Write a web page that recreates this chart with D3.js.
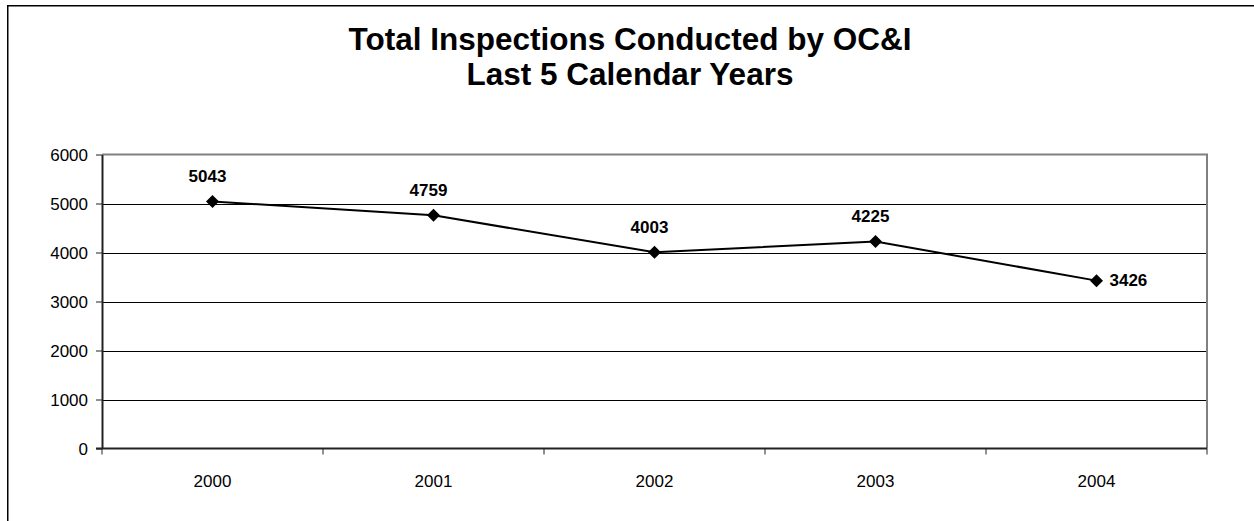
<!DOCTYPE html>
<html>
<head>
<meta charset="utf-8">
<script src="https://cdn.jsdelivr.net/npm/d3@7"></script>
<style>
  html, body { margin: 0; padding: 0; background: #fff; overflow: hidden; }
  svg { display: block; }
  text { font-family: "Liberation Sans", Arial, sans-serif; fill: #000; }
</style>
</head>
<body>
<svg id="chart" width="1254" height="521"></svg>
<script>
const titleLines = ["Total Inspections Conducted by OC&I", "Last 5 Calendar Years"];
const years = ["2000", "2001", "2002", "2003", "2004"];
const inspections = [5043, 4759, 4003, 4225, 3426];
const yTicks = [0, 1000, 2000, 3000, 4000, 5000, 6000];

const W = 1254, H = 521;
const plot = { left: 102, top: 154.5, right: 1207, bottom: 448.5 };

const svg = d3.select("#chart");

// outer chart border (extends past right/bottom edge)
svg.append("path")
  .attr("d", `M${W + 10},5.75H7.75V${H + 10}`)
  .attr("fill", "none").attr("stroke", "#000").attr("stroke-width", 1.5);

// title
const title = svg.append("text")
  .attr("text-anchor", "middle")
  .attr("font-weight", "bold")
  .attr("font-size", 31.5);
titleLines.forEach((t, i) => {
  title.append("tspan").attr("x", 630).attr("y", 49.5 + i * 35.5).text(t);
});

const x = d3.scaleBand().domain(years).range([plot.left, plot.right]);
const y = d3.scaleLinear().domain([0, 6000]).range([plot.bottom, plot.top]);

// gridlines
svg.append("g")
  .selectAll("line")
  .data(yTicks.filter(d => d > 0 && d < 6000))
  .join("line")
  .attr("x1", plot.left).attr("x2", plot.right)
  .attr("y1", d => Math.round(y(d)) + 0.5).attr("y2", d => Math.round(y(d)) + 0.5)
  .attr("stroke", "#000").attr("stroke-width", 1);

// plot frame (top & right gray)
svg.append("path")
  .attr("d", `M${plot.left},${plot.top}H${plot.right}V${plot.bottom}`)
  .attr("fill", "none").attr("stroke", "#808080").attr("stroke-width", 2);

// y axis
const yAxis = svg.append("g")
  .attr("transform", `translate(${plot.left},0)`)
  .call(d3.axisLeft(y).tickValues(yTicks).tickFormat(d3.format("d"))
    .tickSize(6).tickPadding(8).tickSizeOuter(0));
yAxis.select(".domain").attr("stroke", "#222").attr("stroke-width", 2);
yAxis.selectAll(".tick line").attr("stroke", "#222").attr("stroke-width", 1);
yAxis.selectAll(".tick text")
  .attr("font-size", 17)
  .attr("fill", "#000").attr("dy", "0.35em");

// x axis
const xAxis = svg.append("g")
  .attr("transform", `translate(0,${plot.bottom})`)
  .call(d3.axisBottom(x).tickSize(0).tickPadding(26));
xAxis.select(".domain").remove();
xAxis.selectAll(".tick text")
  .attr("font-size", 17)
  .attr("fill", "#000");
svg.append("line")
  .attr("x1", plot.left - 6).attr("x2", plot.right)
  .attr("y1", plot.bottom).attr("y2", plot.bottom)
  .attr("stroke", "#222").attr("stroke-width", 2);
// x category boundary ticks
const bounds = years.map(d => x(d)).concat([x(years[years.length - 1]) + x.bandwidth()]);
svg.append("g").selectAll("line")
  .data(bounds)
  .join("line")
  .attr("x1", d => d).attr("x2", d => d)
  .attr("y1", plot.bottom).attr("y2", plot.bottom + 6)
  .attr("stroke", "#222").attr("stroke-width", 1);

// series line
const cx = d => x(d) + x.bandwidth() / 2;
const pts = years.map((yr, i) => [cx(yr), y(inspections[i])]);
svg.append("path")
  .attr("d", d3.line()(pts))
  .attr("fill", "none").attr("stroke", "#000").attr("stroke-width", 2);

// diamond markers
svg.append("g").selectAll("path")
  .data(pts)
  .join("path")
  .attr("transform", d => `translate(${d[0]},${d[1]})`)
  .attr("d", "M0,-6.5L6.5,0L0,6.5L-6.5,0Z")
  .attr("fill", "#000");

// value labels
svg.append("g").selectAll("text")
  .data(inspections.map((v, i) => ({ v, i, p: pts[i] })))
  .join("text")
  .attr("font-weight", "bold").attr("font-size", 17)
  .attr("text-anchor", d => d.i === inspections.length - 1 ? "start" : "middle")
  .attr("x", d => d.i === inspections.length - 1 ? d.p[0] + 13 : d.p[0] - 5)
  .attr("y", d => d.i === inspections.length - 1 ? d.p[1] + 5 : d.p[1] - 19)
  .text(d => d.v);
</script>
</body>
</html>
